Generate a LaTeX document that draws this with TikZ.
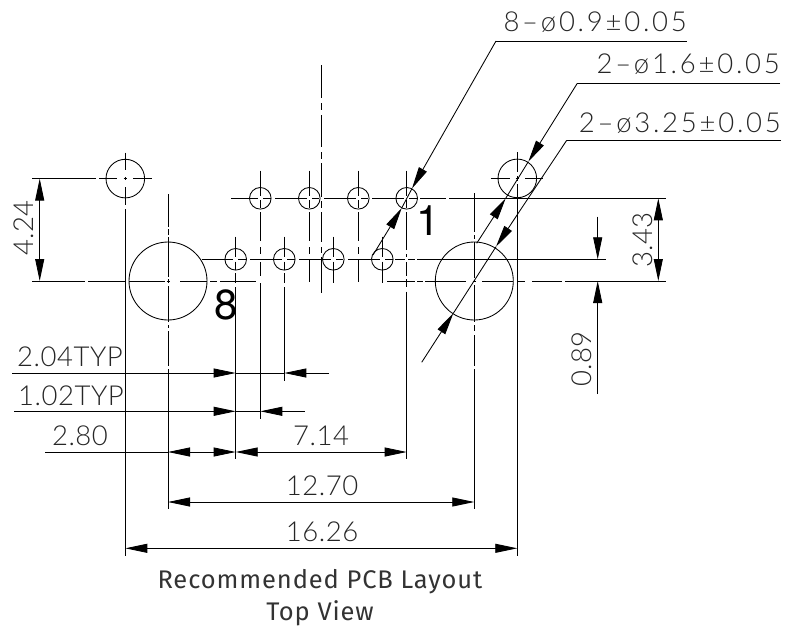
\documentclass[tikz,border=0pt]{standalone}
\usepackage{fontspec}
\usetikzlibrary{arrows.meta}
\setmainfont{Liberation Sans}
\newfontfamily\dimfont[LetterSpace=2]{Lato Light}
\newfontfamily\widefont[LetterSpace=10]{Lato Light}
\newfontfamily\capfont[LetterSpace=3.5]{Fira Sans}
\newfontfamily\pinfont{TeX Gyre Heros}
\tikzset{
  x=1pt,y=-1pt,
  ln/.style={line width=0.85pt,black},
  dimline/.style={ln,{Triangle[length=22pt,width=9pt]}-{Triangle[length=22pt,width=9pt]}},
  tipend/.style={ln,-{Triangle[length=22pt,width=9pt]}},
  dimtext/.style={font=\dimfont\fontsize{27.5}{27.5}\selectfont,inner sep=0pt,text=black!85},
  leadtext/.style={font=\widefont\fontsize{27.5}{27.5}\selectfont,inner sep=0pt,text=black!85},
  captext/.style={font=\capfont\fontsize{25.5}{25.5}\selectfont,inner sep=0pt,text=black!80},
  pintext/.style={font=\pinfont\fontsize{42}{42}\selectfont,inner sep=0pt}
}
\newcommand{\vsegs}[2]{\foreach \a/\b in {#2}{\draw[ln] (#1,\a) -- (#1,\b);}}
\newcommand{\hsegs}[2]{\foreach \a/\b in {#2}{\draw[ln] (\a,#1) -- (\b,#1);}}
\begin{document}
\begin{tikzpicture}
\useasboundingbox (0,0) rectangle (799,626);
\fill[white] (0,0) rectangle (799,626);
% hole centres
\coordinate (mL) at (125.3,178.6);
\coordinate (mR) at (517.3,178.4);
\coordinate (bL) at (168,281);
\coordinate (bR) at (474.3,281);
\foreach \n/\x in {t1/406.7,t2/358.3,t3/309.3,t4/260.3}{\coordinate (\n) at (\x,198.3);}
\foreach \n/\x in {b1/382.3,b2/333.3,b3/284.3,b4/235.7}{\coordinate (\n) at (\x,259.3);}
% holes
\draw[ln] (mL) circle[radius=19.3] (mR) circle[radius=19.3];
\draw[ln] (bL) circle[radius=39] (bR) circle[radius=39];
\foreach \n in {t1,t2,t3,t4,b1,b2,b3,b4}{\draw[ln] (\n) circle[radius=10.8];}
% horizontal centre lines
\hsegs{178.6}{32/96,99/117,123.5/127,133/152}
\hsegs{178.4}{490.7/510,515.5/519,525/543.3}
\hsegs{198.3}{231/258,263/271,275/307,312/319,324/356,361/368,372/404,409/417,420/446,449/666}
\hsegs{259.3}{201.7/233,238/247,250/282,287/295,299/331,336/343,348/380,385/393,395/405,408/415,417/606}
\hsegs{281}{32/85,88/125,129/165,166.5/170,180/207,210/217,220/255.7}
\hsegs{281}{387/415,417/423,425/466,472.5/476,482/513,518/525,532/562,565/666}
% vertical centre lines
\vsegs{125.3}{152.7/170,177/180,187/205,209/555.7}
\vsegs{517.3}{152/172,176/181,184/197,199/555.7}
\vsegs{168}{194/227,229/235,237/277,279/283,286/322,325/328,331/366,369/509.3}
\vsegs{474.3}{193/232,235/239,242/278,279.5/282,285/322,325/331,335/366,369/509.3}
\vsegs{321.3}{65/98,103/110,115/147,152/159,163/197,201/208,212/242,247/253,257/293}
\vsegs{260.3}{170.7/196,200/207.5,212/241,247/254,262/276,283/419.3}
\vsegs{309.3}{170.7/196,200/207.5,212/241,247/254,259/282}
\vsegs{358.3}{170.7/196,200/207.5,212/241,247/254,259/282}
\vsegs{406.7}{170.7/196,200/207.5,212/250,254/257,262/276,279/287,291.7/459.3}
\vsegs{235.7}{236.7/256.7,261.7/270,273/283,287/459.3}
\vsegs{284.3}{236.7/256.7,261.7/270,273/283,287/380.7}
\vsegs{333.3}{236.7/256.7,261.7/283}
\vsegs{382.3}{236.7/256.7,261.7/283}
% linear dimensions
\coordinate (d424a) at (39.7,178.6); \coordinate (d424b) at (39.7,281);
\draw[dimline] (d424a) -- (d424b);
\coordinate (d343a) at (658.3,198.3); \coordinate (d343b) at (658.3,281);
\draw[dimline] (d343a) -- (d343b);
\coordinate (d89top) at (597.7,216.7); \coordinate (d89a) at (597.7,259.3);
\coordinate (d89bot) at (597.7,394); \coordinate (d89b) at (597.7,281);
\draw[tipend] (d89top) -- (d89a);
\draw[tipend] (d89bot) -- (d89b);
% TYP dimensions
\coordinate (a204l) at (12,373); \coordinate (a204t) at (235.7,373);
\coordinate (a204r) at (329,373); \coordinate (a204e) at (284.3,373);
\draw[tipend] (a204l) -- (a204t); \draw[tipend] (a204r) -- (a204e);
\draw[ln] (a204t) -- (a204e);
\coordinate (a102l) at (14,411.3); \coordinate (a102t) at (235.7,411.3);
\coordinate (a102r) at (304.8,411.3); \coordinate (a102e) at (260.3,411.3);
\draw[tipend] (a102l) -- (a102t); \draw[tipend] (a102r) -- (a102e);
\draw[ln] (a102t) -- (a102e);
\coordinate (a280l) at (45,452); \coordinate (a280a) at (168,452);
\coordinate (a280b) at (235.7,452); \coordinate (a280c) at (406.7,452);
\draw[ln] (a280l) -- (a280a);
\draw[dimline] (a280a) -- (a280b);
\draw[dimline] (a280b) -- (a280c);
\coordinate (a127a) at (168,502); \coordinate (a127b) at (474.3,502);
\draw[dimline] (a127a) -- (a127b);
\coordinate (a162a) at (125.3,548.3); \coordinate (a162b) at (517.3,548.3);
\draw[dimline] (a162a) -- (a162b);
% leaders
\coordinate (l9e) at (686.7,41); \coordinate (l9k) at (496,41);
\coordinate (l9t) at (412,188.5); \coordinate (l9u) at (401.7,208); \coordinate (l9v) at (373,255);
\draw[ln] (l9e) -- (l9k); \draw[tipend] (l9k) -- (l9t); \draw[tipend] (l9v) -- (l9u); \draw[ln] (l9t) -- (l9u);
\coordinate (l16e) at (780,83.3); \coordinate (l16k) at (577.3,83.3);
\coordinate (l16t) at (528.3,161.7); \coordinate (l16u) at (505.7,198.3); \coordinate (l16v) at (476.7,243.3);
\draw[ln] (l16e) -- (l16k); \draw[tipend] (l16k) -- (l16t); \draw[tipend] (l16v) -- (l16u); \draw[ln] (l16t) -- (l16u);
\coordinate (l32e) at (781,140.3); \coordinate (l32k) at (566.7,140.3);
\coordinate (l32t) at (496,246.7); \coordinate (l32u) at (453.3,313.3); \coordinate (l32v) at (421.7,362.3);
\draw[ln] (l32e) -- (l32k); \draw[tipend] (l32k) -- (l32t); \draw[tipend] (l32v) -- (l32u); \draw[ln] (l32t) -- (l32u);
% texts
\node[leadtext,anchor=base east] (x1) at (687,32) {8–ø0.9±0.05};
\node[leadtext,anchor=base east] (x2) at (780,74) {2–ø1.6±0.05};
\node[leadtext,anchor=base east] (x3) at (781,132) {2–ø3.25±0.05};
\node[dimtext,rotate=90,anchor=base] (x4) at (33,228) {4.24};
\node[dimtext,rotate=90,anchor=base] (x5) at (652.7,240) {3.43};
\node[dimtext,rotate=90,anchor=base] (x6) at (591,359) {0.89};
\node[dimtext,anchor=base] (x7) at (70,366.7) {2.04TYP};
\node[dimtext,anchor=base] (x8) at (71,405) {1.02TYP};
\node[dimtext,anchor=base] (x9) at (80,445) {2.80};
\node[dimtext,anchor=base] (x10) at (321,445) {7.14};
\node[dimtext,anchor=base] (x11) at (322,495.7) {12.70};
\node[dimtext,anchor=base] (x12) at (322,541.7) {16.26};
\node[pintext,anchor=base] (p1) at (428,235.5) {1};
\node[pintext,anchor=base] (p8) at (226,319.8) {8};
\node[captext,anchor=base] (c1) at (320,588.5) {Recommended PCB Layout};
\node[captext,anchor=base] (c2) at (320,620) {Top View};
\end{tikzpicture}
\end{document}
